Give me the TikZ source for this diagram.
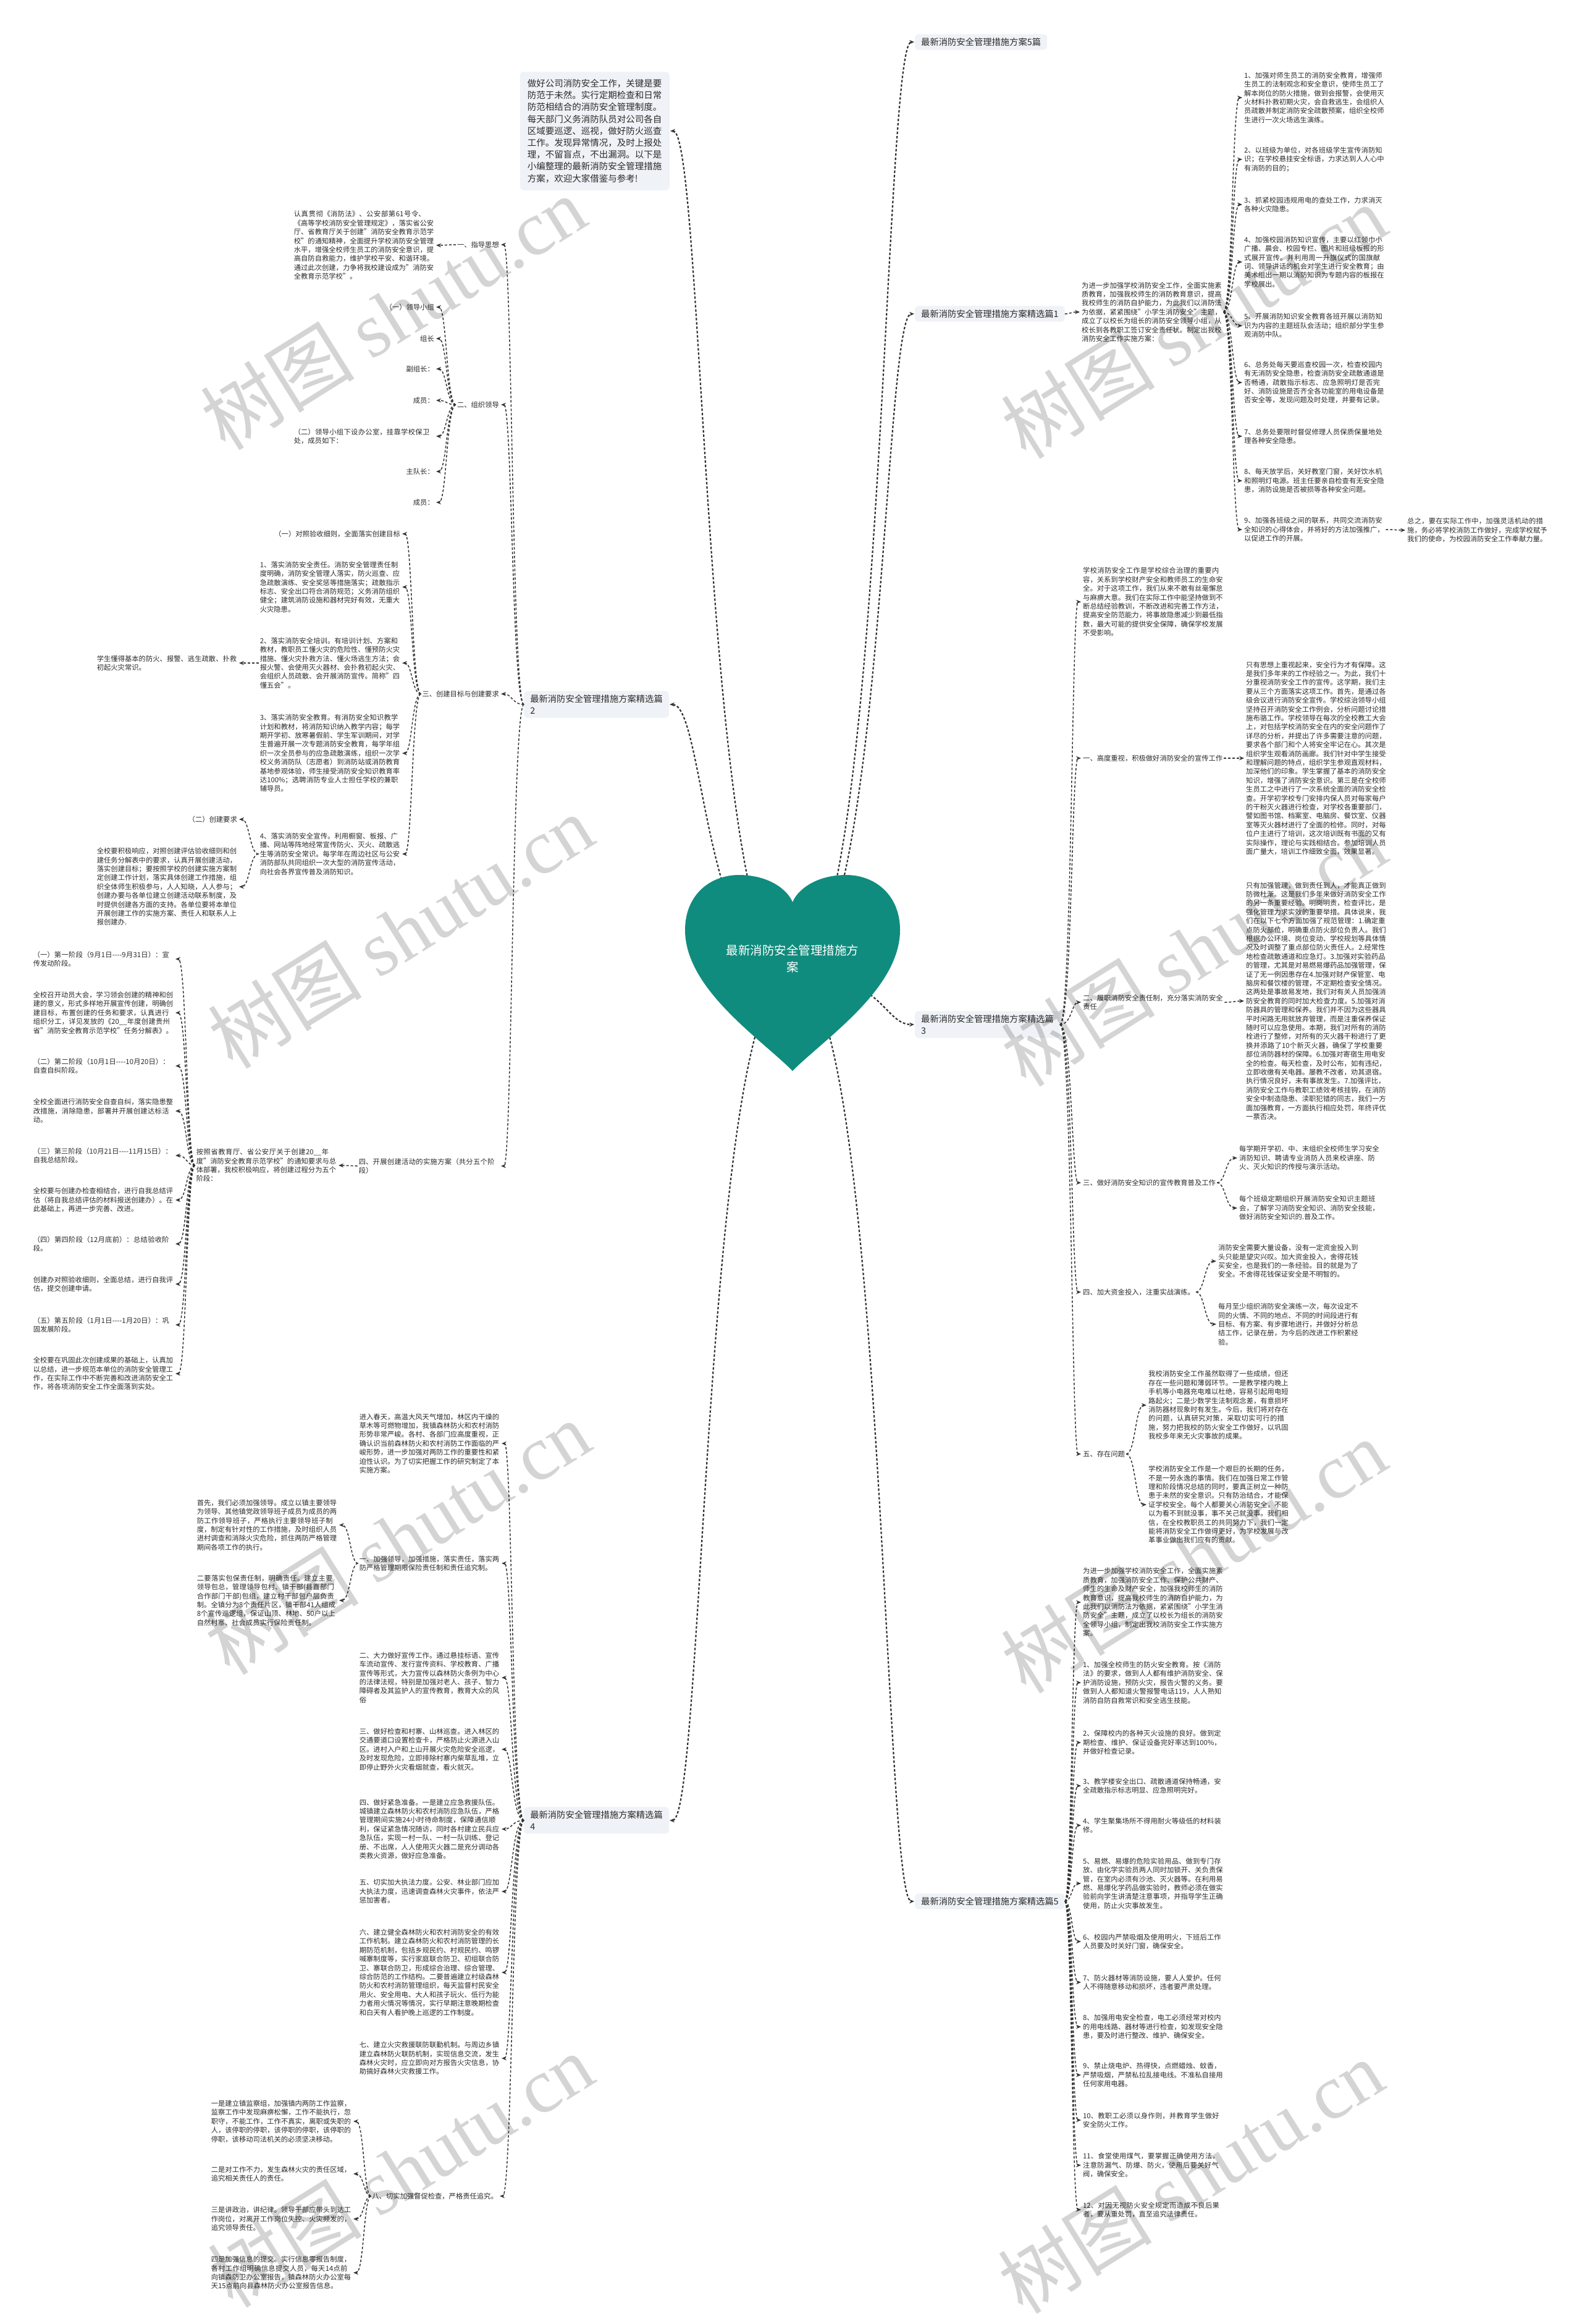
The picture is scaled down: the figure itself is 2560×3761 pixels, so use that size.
\documentclass[tikz,border=0pt]{standalone}
\usepackage{fontspec}
\setmainfont{Noto Sans CJK SC}
\newfontfamily\wmfont{Liberation Serif}
\XeTeXlinebreaklocale "zh"
\XeTeXlinebreakskip=0pt plus 1pt
\usetikzlibrary{arrows.meta}
\definecolor{heartc}{HTML}{108C7E}
\definecolor{boxc}{HTML}{EFF2F6}
\definecolor{linec}{HTML}{333333}
\definecolor{txtc}{HTML}{2B2B2B}
\newcommand\conR[3]{\draw[conn] (#1.east) .. controls (#1.east -| #3) and (#2.west -| #3) .. (#2.west);}
\newcommand\conL[3]{\draw[conn] (#1.west) .. controls (#1.west -| #3) and (#2.east -| #3) .. (#2.east);}
\newcommand\rootR[1]{\draw[rootconn] (hc) .. controls (hc -| tRR) and (#1.west -| tRR) .. (#1.west);}
\newcommand\rootL[1]{\draw[rootconn] (hc) .. controls (hc -| tLL) and (#1.east -| tLL) .. (#1.east);}
\begin{document}
\begin{tikzpicture}[x=1pt,y=-1pt,
  txt/.style={font=\fontsize{11.3}{14.4}\selectfont, text width=227pt, align=left, inner xsep=2pt, inner ysep=1pt, text=txtc},
  lab/.style={font=\fontsize{11.3}{14.4}\selectfont, inner xsep=2pt, inner ysep=1pt, text=txtc},
  lvone/.style={fill=boxc, rounded corners=6pt, font=\fontsize{14.3}{19}\selectfont, inner xsep=10pt, inner ysep=6pt, align=left, text=txtc},
  introbox/.style={fill=boxc, rounded corners=6pt, font=\fontsize{14.5}{19.2}\selectfont, text width=218pt, inner sep=12pt, align=left, text=txtc},
  conn/.style={draw=linec, line width=1.5pt, dash pattern=on 4pt off 3pt, -{Stealth[length=8pt,width=6.5pt]}, shorten >=1pt},
  rootconn/.style={conn, line width=2.2pt},
  wm/.style={rotate=32, text=black, opacity=0.17, font=\fontsize{125}{130}\selectfont}]
\useasboundingbox (0,0) rectangle (2560,3761);
\fill[white] (0,0) rectangle (2560,3761);

% trunk coordinates
\coordinate (hc) at (1283,1575);
\coordinate (tRR) at (1430,0);
\coordinate (tLL) at (1140,0);
\coordinate (t1a) at (1733,0);
\coordinate (t1b) at (1995,0);
\coordinate (t1c) at (2260,0);
\coordinate (t3a) at (1735,0);
\coordinate (t3b) at (1998,0);
\coordinate (t3c) at (1984,0);
\coordinate (t3d) at (1950,0);
\coordinate (t3e) at (1838,0);
\coordinate (t5a) at (1735,0);
\coordinate (t2a) at (829,0);
\coordinate (t2b) at (723,0);
\coordinate (t2c) at (667,0);
\coordinate (t2d) at (404,0);
\coordinate (t2e) at (565,0);
\coordinate (t2f) at (302,0);
\coordinate (t4a) at (829,0);
\coordinate (t4b) at (567,0);
\coordinate (t4c) at (589,0);

% level one
\node[introbox, anchor=east] (intro) at (1084,212) {做好公司消防安全工作，关键是要防范于未然。实行定期检查和日常防范相结合的消防安全管理制度。每天部门义务消防队员对公司各自区域要巡逻、巡视，做好防火巡查工作。发现异常情况，及时上报处理，不留盲点，不出漏洞。以下是小编整理的最新消防安全管理措施方案，欢迎大家借鉴与参考!};
\node[lvone, anchor=west] (b0) at (1481,68) {最新消防安全管理措施方案5篇};
\node[lvone, anchor=west] (b1) at (1481,508) {最新消防安全管理措施方案精选篇1};
\node[lvone, anchor=west] (b3) at (1481,1658) {最新消防安全管理措施方案精选篇\\3};
\node[lvone, anchor=west] (b5) at (1481,3077) {最新消防安全管理措施方案精选篇5};
\node[lvone, anchor=east] (b2) at (1083,1140) {最新消防安全管理措施方案精选篇\\2};
\node[lvone, anchor=east] (b4) at (1083,2946) {最新消防安全管理措施方案精选篇\\4};

% ===== 篇1 =====
\node[txt, anchor=west] (p1i) at (1749,505) {为进一步加强学校消防安全工作，全面实施素质教育，加强我校师生的消防教育意识，提高我校师生的消防自护能力，为此我们以消防法为依据，紧紧围绕"小学生消防安全"主题，成立了以校长为组长的消防安全领导小组，从校长到各教职工签订安全责任状。制定出我校消防安全工作实施方案：};
\node[txt, anchor=west] (p1a) at (2012,158) {1、加强对师生员工的消防安全教育，增强师生员工的法制观念和安全意识，使师生员工了解本岗位的防火措施，做到会报警，会使用灭火材料扑救初期火灾，会自救逃生，会组织人员疏散并制定消防安全疏散预案，组织全校师生进行一次火场逃生演练。};
\node[txt, anchor=west] (p1b) at (2012,258) {2、以班级为单位，对各班级学生宣传消防知识；在学校悬挂安全标语，力求达到人人心中有消防的目的；};
\node[txt, anchor=west] (p1c) at (2012,331) {3、抓紧校园违规用电的查处工作，力求消灭各种火灾隐患。};
\node[txt, anchor=west] (p1d) at (2012,424) {4、加强校园消防知识宣传，主要以红领巾小广播、晨会、校园专栏、图片和班级板报的形式展开宣传。并利用周一升旗仪式的国旗献词、领导讲话的机会对学生进行安全教育；由美术组出一期以消防知识为专题内容的板报在学校展出。};
\node[txt, anchor=west] (p1e) at (2012,527) {5、开展消防知识安全教育各班开展以消防知识为内容的主题班队会活动；组织部分学生参观消防中队。};
\node[txt, anchor=west] (p1f) at (2012,619) {6、总务处每天要巡查校园一次，检查校园内有无消防安全隐患，检查消防安全疏散通道是否畅通，疏散指示标志、应急照明灯是否完好、消防设施是否齐全各功能室的用电设备是否安全等，发现问题及时处理，并要有记录。};
\node[txt, anchor=west] (p1g) at (2012,706) {7、总务处要限时督促修理人员保质保量地处理各种安全隐患。};
\node[txt, anchor=west] (p1h) at (2012,778) {8、每天放学后，关好教室门窗，关好饮水机和照明灯电源。班主任要亲自检查有无安全隐患，消防设施是否被损等各种安全问题。};
\node[txt, anchor=west] (p1j) at (2012,857) {9、加强各班级之间的联系，共同交流消防安全知识的心得体会，并将好的方法加强推广，以促进工作的开展。};
\node[txt, anchor=west] (p1z) at (2276,858) {总之，要在实际工作中，加强灵活机动的措施，务必将学校消防工作做好，完成学校赋予我们的使命，为校园消防安全工作奉献力量。};

% ===== 篇3 =====
\node[txt, anchor=west] (q0) at (1751,974) {学校消防安全工作是学校综合治理的重要内容，关系到学校财产安全和教师员工的生命安全。对于这项工作，我们从来不敢有丝毫懈怠与麻痹大意。我们在实际工作中能坚持做到不断总结经验教训，不断改进和完善工作方法，提高安全防范能力，将事故隐患减少到最低指数，最大可能的提供安全保障，确保学校发展不受影响。};
\node[lab, anchor=west] (q1) at (1751,1227) {一、高度重视，积极做好消防安全的宣传工作};
\node[txt, anchor=west] (q2) at (1751,1622) {二、履职消防安全责任制，充分落实消防安全责任};
\node[lab, anchor=west] (q3) at (1751,1914) {三、做好消防安全知识的宣传教育普及工作};
\node[lab, anchor=west] (q4) at (1751,2091) {四、加大资金投入，注重实战演练。};
\node[lab, anchor=west] (q5) at (1751,2353) {五、存在问题};
\node[txt, anchor=west] (q1a) at (2015,1227) {只有思想上重视起来，安全行为才有保障。这是我们多年来的工作经验之一。为此，我们十分重视消防安全工作的宣传。这学期，我们主要从三个方面落实这项工作。首先，是通过各级会议进行消防安全宣传。学校综治领导小组坚持召开消防安全工作例会，分析问题讨论措施布骆工作。学校领导在每次的全校教工大会上，对包括学校消防安全在内的安全问题作了详尽的分析，并提出了许多需要注意的问题，要求各个部门和个人将安全牢记在心。其次是组织学生观看消防画廊。我们针对中学生接受和理解问题的特点，组织学生参观直观材料，加深他们的印象。学生掌握了基本的消防安全知识，增强了消防安全意识。第三是在全校师生员工之中进行了一次系统全面的消防安全检查。开学初学校专门安排内保人员对每家每户的干粉灭火器进行检查，对学校各重要部门，譬如图书馆、档案室、电脑房、餐饮室、仪器室等灭火器材进行了全面的检修。同时，对每位户主进行了培训，这次培训既有书面的又有实际操作，理论与实践相结合。参加培训人员面广量大，培训工作细致全面，效果显著。};
\node[txt, anchor=west] (q2a) at (2015,1620) {只有加强管理，做到责任到人，才能真正做到防微杜渐。这是我们多年来做好消防安全工作的另一条重要经验。明岗明责，检查评比，是强化管理力求实效的重要举措。具体说来，我们在以下七个方面加强了规范管理：1.确定重点防火部位，明确重点防火部位负责人。我们根据办公环境、岗位变动、学校规划等具体情况及时调整了重点部位防火责任人。2.经常性地检查疏散通道和应急灯。3.加强对实验药品的管理，尤其是对易燃易爆药品加强管理，保证了无一例因患存在4.加强对财产保管室、电脑房和餐饮楼的管理，不定期检查安全情况。这两处是事故易发地，我们对有关人员加强消防安全教育的同时加大检查力度。5.加强对消防器具的管理和保养。我们并不因为这些器具平时闲路无用就放弃管理，而是注重保养保证随时可以应急使用。本期，我们对所有的消防栓进行了整修，对所有的灭火器干粉进行了更换并添路了10个新灭火器，确保了学校重要部位消防器材的保障。6.加强对寄宿生用电安全的检查。每天检查，及时公布，如有违纪，立即收缴有关电器。屡教不改者，劝其退宿。执行情况良好，未有事故发生。7.加强评比，消防安全工作与教职工绩效考核挂钩，在消防安全中制造隐患、渎职犯错的同志，我们一方面加强教育，一方面执行相应处罚，年终评优一票否决。};
\node[txt, anchor=west] (q3a) at (2004,1874) {每学期开学初、中、末组织全校师生学习安全消防知识、聘请专业消防人员来校讲座、防火、灭火知识的传授与演示活动。};
\node[txt, anchor=west] (q3b) at (2004,1955) {每个班级定期组织开展消防安全知识主题班会，了解学习消防安全知识、消防安全技能，做好消防安全知识的.普及工作。};
\node[txt, anchor=west] (q4a) at (1970,2041) {消防安全需要大量设备，没有一定资金投入到头只能是望灾兴叹。加大资金投入，舍得花钱买安全，也是我们的一条经验。目的就是为了安全。不舍得花钱保证安全是不明智的。};
\node[txt, anchor=west] (q4b) at (1970,2143) {每月至少组织消防安全演练一次，每次设定不同的火情、不同的地点、不同的时间段进行有目标、有方案、有步骤地进行，并做好分析总结工作，记录在册，为今后的改进工作积累经验。};
\node[txt, anchor=west] (q5a) at (1857,2274) {我校消防安全工作虽然取得了一些成绩，但还存在一些问题和薄弱环节。一是教学楼内晚上手机等小电器充电难以杜绝，容易引起用电短路起火；二是少数学生法制观念差，有意损坏消防器材现象时有发生。今后，我们将对存在的问题，认真研究对策，采取切实可行的措施，努力把我校的防火安全工作做好，以巩固我校多年来无火灾事故的成果。};
\node[txt, anchor=west] (q5b) at (1857,2435) {学校消防安全工作是一个艰巨的长期的任务，不是一劳永逸的事情。我们在加强日常工作管理和阶段情况总结的同时，要真正树立一种防患于未然的安全意识。只有防治结合，才能保证学校安全。每个人都要关心消防安全，不能以为看不到就没事，事不关己就没事。我们相信，在全校教职员工的共同努力下，我们一定能将消防安全工作做得更好，为学校发展与改革事业做出我们应有的贡献。};

% ===== 篇5 =====
\node[txt, anchor=west] (r0) at (1751,2593) {为进一步加强学校消防安全工作，全面实施素质教育，加强消防安全工作、保护公共财产、师生的生命及财产安全，加强我校师生的消防教育意识，提高我校师生的消防自护能力，为此我们以消防法为依据，紧紧围绕"小学生消防安全"主题，成立了以校长为组长的消防安全领导小组，制定出我校消防安全工作实施方案。};
\node[txt, anchor=west] (r1) at (1751,2723) {1、加强全校师生的防火安全教育。按《消防法》的要求，做到人人都有维护消防安全、保护消防设施，预防火灾，报告火警的义务。要做到人人都知道火警报警电话119，人人熟知消防自防自救常识和安全逃生技能。};
\node[txt, anchor=west] (r2) at (1751,2820) {2、保障校内的各种灭火设施的良好。做到定期检查、维护、保证设备完好率达到100\%，并做好检查记录。};
\node[txt, anchor=west] (r3) at (1751,2890) {3、教学楼安全出口、疏散通道保持畅通，安全疏散指示标志明显、应急照明完好。};
\node[txt, anchor=west] (r4) at (1751,2954) {4、学生聚集场所不得用耐火等级低的材料装修。};
\node[txt, anchor=west] (r5) at (1751,3048) {5、易燃、易爆的危险实验用品、做到专门存放、由化学实验员两人同时加锁开、关负责保管，在室内必须有沙池、灭火器等。在利用易燃、易爆化学药品做实验时，教师必须在做实验前向学生讲清楚注意事项，并指导学生正确使用，防止火灾事故发生。};
\node[txt, anchor=west] (r6) at (1751,3142) {6、校园内严禁吸烟及使用明火，下班后工作人员要及时关好门窗，确保安全。};
\node[txt, anchor=west] (r7) at (1751,3208) {7、防火器材等消防设施，要人人爱护。任何人不得随意移动和损坏，违者要严肃处理。};
\node[txt, anchor=west] (r8) at (1751,3280) {8、加强用电安全检查，电工必须经常对校内的用电线路、器材等进行检查，如发现安全隐患，要及时进行整改、维护、确保安全。};
\node[txt, anchor=west] (r9) at (1751,3358) {9、禁止烧电炉、热得快，点燃蜡烛、蚊香，严禁吸烟，严禁私拉乱接电线。不准私自接用任何家用电器。};
\node[txt, anchor=west] (r10) at (1751,3431) {10、教职工必须以身作则，并教育学生做好安全防火工作。};
\node[txt, anchor=west] (r11) at (1751,3504) {11、食堂使用煤气，要掌握正确使用方法，注意防漏气、防爆、防火，使用后要关好气阀，确保安全。};
\node[txt, anchor=west] (r12) at (1751,3576) {12、对因无视防火安全规定而造成不良后果者，要从重处罚，直至追究法律责任。};

% ===== 篇2 =====
\node[lab, anchor=east] (s1) at (810,396) {一、指导思想};
\node[txt, anchor=east] (s1a) at (705,397) {认真贯彻《消防法》、公安部第61号令、《高等学校消防安全管理规定》，落实省公安厅、省教育厅关于创建"消防安全教育示范学校"的通知精神，全面提升学校消防安全管理水平，增强全校师生员工的消防安全意识，提高自防自救能力，维护学校平安、和谐环境。通过此次创建，力争将我校建设成为"消防安全教育示范学校"。};
\node[lab, anchor=east] (s2) at (810,655) {二、组织领导};
\node[lab, anchor=east] (s2a) at (705,497) {（一）领导小组};
\node[lab, anchor=east] (s2b) at (705,548) {组长};
\node[lab, anchor=east] (s2c) at (705,597) {副组长：};
\node[lab, anchor=east] (s2d) at (705,648) {成员：};
\node[txt, anchor=east] (s2e) at (705,706) {（二）领导小组下设办公室，挂靠学校保卫处，成员如下：};
\node[lab, anchor=east] (s2f) at (705,763) {主队长：};
\node[lab, anchor=east] (s2g) at (705,813) {成员：};
\node[lab, anchor=east] (s3) at (810,1123) {三、创建目标与创建要求};
\node[lab, anchor=east] (s3a) at (650,864) {（一）对照验收细则，全面落实创建目标};
\node[txt, anchor=east] (s3b) at (650,950) {1、落实消防安全责任。消防安全管理责任制度明确，消防安全管理人落实，防火巡查、应急疏散演练、安全奖惩等措施落实；疏散指示标志、安全出口符合消防规范；义务消防组织健全；建筑消防设施和器材完好有效，无重大火灾隐患。};
\node[txt, anchor=east] (s3c) at (650,1073) {2、落实消防安全培训。有培训计划、方案和教材，教职员工懂火灾的危险性、懂预防火灾措施、懂火灾扑救方法、懂火场逃生方法；会报火警、会使用灭火器材、会扑救初起火灾、会组织人员疏散、会开展消防宣传。简称"四懂五会"。};
\node[txt, anchor=east] (s3d) at (650,1219) {3、落实消防安全教育。有消防安全知识教学计划和教材，将消防知识纳入教学内容；每学期开学初、放寒暑假前、学生军训期间，对学生普遍开展一次专题消防安全教育，每学年组织一次全员参与的应急疏散演练，组织一次学校义务消防队（志愿者）到消防站或消防教育基地参观体验，师生接受消防安全知识教育率达100\%；选聘消防专业人士担任学校的兼职辅导员。};
\node[txt, anchor=east] (s3e) at (650,1382) {4、落实消防安全宣传。利用橱窗、板报、广播、网站等阵地经常宣传防火、灭火、疏散逃生等消防安全常识。每学年在周边社区与公安消防部队共同组织一次大型的消防宣传活动，向社会各界宣传普及消防知识。};
\node[txt, anchor=east] (s3c1) at (386,1073) {学生懂得基本的防火、报警、逃生疏散、扑救初起火灾常识。};
\node[lab, anchor=east] (s3e1) at (386,1326) {（二）创建要求};
\node[txt, anchor=east] (s3e2) at (386,1435) {全校要积极响应，对照创建评估验收细则和创建任务分解表中的要求，认真开展创建活动，落实创建目标；要按照学校的创建实施方案制定创建工作计划，落实具体创建工作措施，组织全体师生积极参与，人人知晓，人人参与；创建办要与各单位建立创建活动联系制度，及时提供创建各方面的支持。各单位要将本单位开展创建工作的实施方案、责任人和联系人上报创建办.};
\node[txt, anchor=east] (s4) at (810,1887) {四、开展创建活动的实施方案（共分五个阶段）};
\node[txt, anchor=east] (s4a) at (547,1886) {按照省教育厅、省公安厅关于创建20\_\_年度"消防安全教育示范学校"的通知要求与总体部署，我校积极响应，将创建过程分为五个阶段：};
\node[txt, anchor=east] (s4b) at (283,1552) {（一）第一阶段（9月1日-{}-{}-{}-9月31日）：宣传发动阶段。};
\node[txt, anchor=east] (s4c) at (283,1639) {全校召开动员大会，学习领会创建的精神和创建的意义，形式多样地开展宣传创建，明确创建目标，布置创建的任务和要求，认真进行组织分工，详见发放的《20\_\_年度创建贵州省"消防安全教育示范学校"任务分解表》。};
\node[txt, anchor=east] (s4d) at (283,1725) {（二）第二阶段（10月1日-{}-{}-{}-10月20日）：自查自纠阶段。};
\node[txt, anchor=east] (s4e) at (283,1798) {全校全面进行消防安全自查自纠，落实隐患整改措施，消除隐患，部署并开展创建达标活动。};
\node[txt, anchor=east] (s4f) at (283,1870) {（三）第三阶段（10月21日-{}-{}-{}-11月15日）：自我总结阶段。};
\node[txt, anchor=east] (s4g) at (283,1942) {全校要与创建办检查相结合，进行自我总结评估（将自我总结评估的材料报送创建办）。在此基础上，再进一步完善、改进。};
\node[txt, anchor=east] (s4h) at (283,2013) {（四）第四阶段（12月底前）：总结验收阶段。};
\node[txt, anchor=east] (s4i) at (283,2078) {创建办对照验收细则，全面总结，进行自我评估，提交创建申请。};
\node[txt, anchor=east] (s4j) at (283,2144) {（五）第五阶段（1月1日-{}-{}-{}-1月20日）：巩固发展阶段。};
\node[txt, anchor=east] (s4k) at (283,2223) {全校要在巩固此次创建成果的基础上，认真加以总结，进一步规范本单位的消防安全管理工作，在实际工作中不断完善和改进消防安全工作，将各项消防安全工作全面落到实处。};

% ===== 篇4 =====
\node[txt, anchor=east] (u0) at (811,2336) {进入春天，高温大风天气增加，林区内干燥的草木等可燃物增加，我镇森林防火和农村消防形势非常严峻。各村、各部门应高度重视，正确认识当前森林防火和农村消防工作面临的严峻形势，进一步加强对两防工作的重要性和紧迫性认识。为了切实把握工作的研究制定了本实施方案。};
\node[txt, anchor=east] (u1) at (811,2530) {一、加强领导，加强措施，落实责任，落实两防严格管理期限保险责任制和责任追究制。};
\node[txt, anchor=east] (u2) at (811,2715) {二、大力做好宣传工作。通过悬挂标语、宣传车流动宣传、发行宣传资料、学校教育、广播宣传等形式，大力宣传以森林防火条例为中心的法律法规，特别是加强对老人、孩子、智力障碍者及其监护人的宣传教育，教育大众的风俗};
\node[txt, anchor=east] (u3) at (811,2831) {三、做好检查和村寨、山林巡查。进入林区的交通要道口设置检查卡，严格防止火源进入山区。进村入户和上山开展火灾危险安全巡逻，及时发现危险，立即排除村寨内柴草乱堆，立即停止野外火灾看烟就查，看火就灭。};
\node[txt, anchor=east] (u4) at (811,2960) {四、做好紧急准备。一是建立应急救援队伍。城镇建立森林防火和农村消防应急队伍，严格管理期间实施24小时待命制度，保障通信顺利，保证紧急情况随访，同时各村建立民兵应急队伍，实现一村一队、一村一队训练、登记册、不出席，人人使用灭火器二是充分调动各类救火资源，做好应急准备。};
\node[txt, anchor=east] (u5) at (811,3061) {五、切实加大执法力度。公安、林业部门应加大执法力度，迅速调查森林火灾事件，依法严惩加害者。};
\node[txt, anchor=east] (u6) at (811,3192) {六、建立健全森林防火和农村消防安全的有效工作机制。建立森林防火和农村消防管理的长期防范机制，包括乡规民约、村规民约、鸣锣喊寨制度等，实行家庭联合防卫、初组联合防卫、寨联合防卫，形成综合治理、综合管理、综合防范的工作结构。二要普遍建立村级森林防火和农村消防管理组织，每天监督村民安全用火、安全用电、大人和孩子玩火、低行为能力者用火情况等情况，实行早期注意晚期检查和白天有人看护晚上巡逻的工作制度。};
\node[txt, anchor=east] (u7) at (811,3331) {七、建立火灾救援联防联勤机制。与周边乡镇建立森林防火联防机制，实现信息交流，发生森林火灾时，应立即向对方报告火灾信息，协助搞好森林火灾救援工作。};
\node[lab, anchor=east] (u8) at (808,3554) {八、切实加强督促检查，严格责任追究。};
\node[txt, anchor=east] (u1a) at (548,2468) {首先，我们必须加强领导。成立以镇主要领导为领导、其他镇党政领导班子成员为成员的两防工作领导班子，严格执行主要领导班子制度，制定有针对性的工作措施，及时组织人员进村调查和消除火灾危险，抓住两防严格管理期间各项工作的执行。};
\node[txt, anchor=east] (u1b) at (548,2590) {二要落实包保责任制，明确责任。建立主要领导包总，管理领导包村、镇干部(县直部门合作部门干部)包组，建立村干部包户层负责制。全镇分为8个责任片区，镇干部41人组成8个宣传巡逻组，保证山顶、林地、50户以上自然村寨、社会成员实行保险责任制。};
\node[txt, anchor=east] (u8a) at (571,3433) {一是建立镇监察组，加强镇内两防工作监察，监察工作中发现麻痹松懈，工作不能执行，忽职守，不能工作，工作不真实，离职或失职的人，该停职的停职，该停职的停职，该停职的停职，该移动司法机关的必须坚决移动。};
\node[txt, anchor=east] (u8b) at (571,3518) {二是对工作不力，发生森林火灾的责任区域，追究相关责任人的责任。};
\node[txt, anchor=east] (u8c) at (571,3591) {三是讲政治，讲纪律。领导干部应带头到达工作岗位，对离开工作岗位失控、火灾频发的，追究领导责任。};
\node[txt, anchor=east] (u8d) at (571,3678) {四是加强信息的提交。实行信息零报告制度，各村工作组明确信息提交人员，每天14点前向镇森防卫办公室报告，镇森林防火办公室每天15点前向县森林防火办公室报告信息。};

% ===== connectors =====
\rootR{b0}\rootR{b1}\rootR{b3}\rootR{b5}
\rootL{intro}\rootL{b2}\rootL{b4}

\conR{b1}{p1i}{t1a}
\foreach \n in {p1a,p1b,p1c,p1d,p1e,p1f,p1g,p1h,p1j} {\conR{p1i}{\n}{t1b}}
\conR{p1j}{p1z}{t1c}

\foreach \n in {q0,q1,q2,q3,q4,q5} {\conR{b3}{\n}{t3a}}
\conR{q1}{q1a}{t3b}
\conR{q2}{q2a}{t3b}
\conR{q3}{q3a}{t3c}\conR{q3}{q3b}{t3c}
\conR{q4}{q4a}{t3d}\conR{q4}{q4b}{t3d}
\conR{q5}{q5a}{t3e}\conR{q5}{q5b}{t3e}

\foreach \n in {r0,r1,r2,r3,r4,r5,r6,r7,r8,r9,r10,r11,r12} {\conR{b5}{\n}{t5a}}

\foreach \n in {s1,s2,s3,s4} {\conL{b2}{\n}{t2a}}
\conL{s1}{s1a}{t2b}
\foreach \n in {s2a,s2b,s2c,s2d,s2e,s2f,s2g} {\conL{s2}{\n}{t2b}}
\foreach \n in {s3a,s3b,s3c,s3d,s3e} {\conL{s3}{\n}{t2c}}
\conL{s3c}{s3c1}{t2d}
\conL{s3e}{s3e1}{t2d}\conL{s3e}{s3e2}{t2d}
\conL{s4}{s4a}{t2e}
\foreach \n in {s4b,s4c,s4d,s4e,s4f,s4g,s4h,s4i,s4j,s4k} {\conL{s4a}{\n}{t2f}}

\foreach \n in {u0,u1,u2,u3,u4,u5,u6,u7,u8} {\conL{b4}{\n}{t4a}}
\conL{u1}{u1a}{t4b}\conL{u1}{u1b}{t4b}
\foreach \n in {u8a,u8b,u8c,u8d} {\conL{u8}{\n}{t4c}}

% ===== heart (root) =====
\fill[heartc] (1283,1733)
  .. controls (1230,1680) and (1109,1600) .. (1109,1505)
  .. controls (1109,1448) and (1150,1416) .. (1196,1416)
  .. controls (1245,1416) and (1275,1440) .. (1283,1460)
  .. controls (1291,1440) and (1321,1416) .. (1370,1416)
  .. controls (1416,1416) and (1457,1448) .. (1457,1505)
  .. controls (1457,1600) and (1336,1680) .. (1283,1733) -- cycle;
\node[text=white, font=\fontsize{19.5}{27}\selectfont, align=center] (root) at (1283,1551) {最新消防安全管理措施方\\案};

% ===== watermarks =====
\foreach \wx/\wy [count=\i] in {636/506, 1932/520, 648/1507, 1932/1536, 643/2488, 1932/2518, 648/3512, 1927/3522} {
  \node[wm] (wm\i) at (\wx,\wy) {树图 {\wmfont shutu.cn}};
}
\end{tikzpicture}
\end{document}
